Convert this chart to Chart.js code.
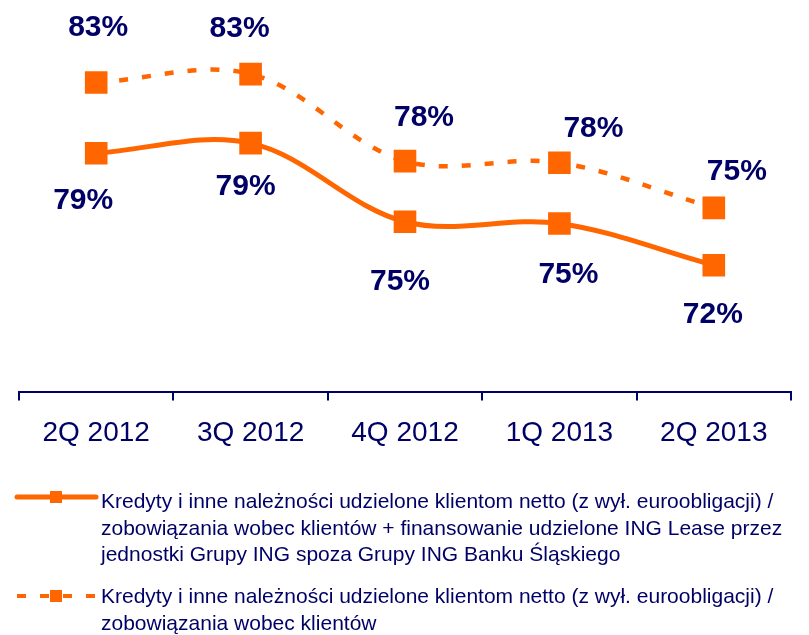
<!DOCTYPE html>
<html lang="pl">
<head>
<meta charset="utf-8">
<title>Kredyty / depozyty</title>
<script src="https://cdn.jsdelivr.net/npm/chart.js@4/dist/chart.umd.min.js"></script>
<style>
  html, body { margin: 0; padding: 0; background: #fff; }
  #wrap { width: 809px; height: 635px; }
</style>
</head>
<body>
<div id="wrap"><canvas id="wykres" width="809" height="635"></canvas></div>
<script>
// Kwartały
const kwartaly = ['2Q 2012', '3Q 2012', '4Q 2012', '1Q 2013', '2Q 2013'];

// Wskaźnik z finansowaniem ING Lease (linia ciągła), %
const wskaznikZLease = [78.8, 79.4, 74.7, 74.6, 72.1];
// Wskaźnik bez finansowania (linia przerywana), %
const wskaznik = [82.9, 83.4, 78.2, 78.1, 75.4];

// Opisy serii (podział na wiersze jak w legendzie)
const opisZLease = [
  'Kredyty i inne należności udzielone klientom netto (z wył. euroobligacji) /',
  'zobowiązania wobec klientów + finansowanie udzielone ING Lease przez',
  'jednostki Grupy ING spoza Grupy ING Banku Śląskiego'
];
const opis = [
  'Kredyty i inne należności udzielone klientom netto (z wył. euroobligacji) /',
  'zobowiązania wobec klientów'
];

const POMARANCZ = '#FF6600';
const GRANAT = '#000066';

// przesunięcia etykiet wartości względem punktów
const etykietyDx = [[-13, -5, -5, 9, -1], [2, -11, 19, 34, 23]];
const etykietyDy = [[48, 44, 60, 51, 49], [-55, -45, -43, -34, -36]];

const etykietyWartosci = {
  id: 'etykietyWartosci',
  afterDatasetsDraw(chart) {
    const ctx = chart.ctx;
    ctx.save();
    ctx.font = 'bold 30px "Liberation Sans", Arial, sans-serif';
    ctx.fillStyle = GRANAT;
    ctx.textAlign = 'center';
    ctx.textBaseline = 'middle';
    chart.data.datasets.forEach((ds, d) => {
      chart.getDatasetMeta(d).data.forEach((pt, i) => {
        ctx.fillText(Math.round(ds.data[i]) + '%', pt.x + etykietyDx[d][i], pt.y + etykietyDy[d][i]);
      });
    });
    ctx.restore();
  }
};

// legenda pod wykresem
const legenda = {
  id: 'legenda',
  afterDraw(chart) {
    const ctx = chart.ctx;
    ctx.save();
    ctx.font = '21px "Liberation Sans", Arial, sans-serif';
    const sx = Math.min(1, 690 / ctx.measureText(opisZLease[0]).width);
    const pozycje = [
      { linie: opisZLease, y0: 508, ys: 497, dash: [], lw: 5, cap: 'round' },
      { linie: opis, y0: 603, ys: 596, dash: [9, 14], lw: 4, cap: 'butt' }
    ];
    pozycje.forEach(p => {
      // próbka linii
      ctx.strokeStyle = POMARANCZ;
      ctx.lineWidth = p.lw;
      ctx.lineCap = p.cap;
      ctx.setLineDash(p.dash);
      ctx.beginPath();
      ctx.moveTo(17, p.ys);
      ctx.lineTo(96, p.ys);
      ctx.stroke();
      ctx.setLineDash([]);
      ctx.fillStyle = POMARANCZ;
      ctx.fillRect(50, p.ys - 6, 12, 12);
      // tekst
      ctx.fillStyle = GRANAT;
      ctx.textAlign = 'left';
      ctx.textBaseline = 'alphabetic';
      p.linie.forEach((t, i) => {
        ctx.save();
        ctx.translate(101, p.y0 + i * 26.5);
        ctx.scale(sx, 1);
        ctx.fillText(t, 0, 0);
        ctx.restore();
      });
    });
    ctx.restore();
  }
};

new Chart(document.getElementById('wykres'), {
  type: 'line',
  data: {
    labels: kwartaly,
    datasets: [
      {
        label: opisZLease.join(' '),
        data: wskaznikZLease,
        yAxisID: 'y',
        borderColor: POMARANCZ,
        borderWidth: 5,
        tension: 0.35,
        pointStyle: 'rect',
        pointRadius: 16,
        pointBackgroundColor: POMARANCZ,
        pointBorderWidth: 0
      },
      {
        label: opis.join(' '),
        data: wskaznik,
        yAxisID: 'y2',
        borderColor: POMARANCZ,
        borderWidth: 4.5,
        borderDash: [9, 14],
        tension: 0.35,
        pointStyle: 'rect',
        pointRadius: 16,
        pointBackgroundColor: POMARANCZ,
        pointBorderWidth: 0
      }
    ]
  },
  options: {
    responsive: false,
    devicePixelRatio: 1,
    animation: false,
    layout: { autoPadding: false, padding: { left: 19, right: 18, top: 0, bottom: 169 } },
    plugins: {
      legend: { display: false },
      tooltip: { enabled: false }
    },
    scales: {
      x: {
        offset: true,
        grid: {
          offset: true,
          drawOnChartArea: false,
          drawTicks: true,
          tickLength: 8,
          color: GRANAT,
          lineWidth: 2
        },
        border: { display: true, color: GRANAT, width: 2 },
        ticks: {
          color: GRANAT,
          padding: 16,
          font: { family: '"Liberation Sans", Arial, sans-serif', size: 28 }
        }
      },
      y: { display: false, min: 64.5, max: 87.96 },
      y2: { display: false, min: 64.37, max: 87.83 }
    }
  },
  plugins: [etykietyWartosci, legenda]
});
</script>
</body>
</html>
